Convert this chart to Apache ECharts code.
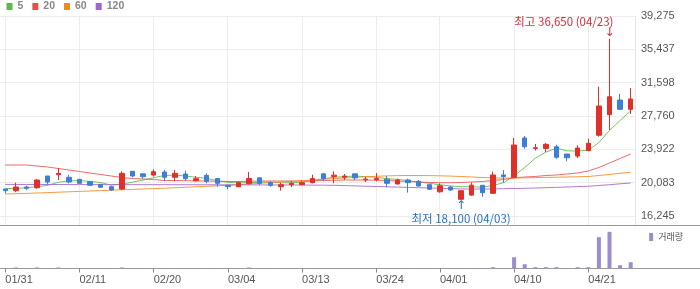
<!DOCTYPE html>
<html><head><meta charset="utf-8">
<script src="https://cdn.jsdelivr.net/npm/echarts@6/dist/echarts.min.js"></script>
<style>html,body{margin:0;padding:0;background:#fff}#c{width:700px;height:289px}</style>
</head><body><div id="c"></div>
<script>
const dates = ['01/31','02/03','02/04','02/05','02/06','02/07','02/10','02/11','02/12','02/13',
 '02/14','02/17','02/18','02/19','02/20','02/21','02/24','02/25','02/26','02/27',
 '02/28','03/04','03/05','03/06','03/07','03/10','03/11','03/12','03/13','03/14',
 '03/17','03/18','03/19','03/20','03/21','03/24','03/25','03/26','03/27','03/28',
 '03/31','04/01','04/02','04/03','04/04','04/07','04/08','04/09','04/10','04/11',
 '04/14','04/15','04/16','04/17','04/18','04/21','04/22','04/23','04/24','04/25'];
const opens = [19350,19160,19585,19500,20850,21000,20700,20470,20200,19895,
 19620,19350,21390,21100,20960,21310,20700,21080,20310,20930,
 20560,19780,19620,19960,20640,20080,19620,19850,19860,20080,
 21100,20800,20700,21100,20410,20410,20490,19930,20390,20240,
 19850,19030,19570,18170,18650,19780,18860,20970,20700,25230,
 24030,24030,24220,23380,23150,23770,25540,27910,29600,28530];
const closes = [19160,19585,19430,20390,20160,21155,20160,20010,19780,19550,
 19240,21160,20850,20780,21350,20700,21160,20540,20540,20240,
 20010,19620,20080,20560,20010,19780,19850,20010,20080,20560,
 20560,20950,20850,20640,20500,20560,20010,20390,20080,19700,
 19320,19720,19240,19160,19800,18930,20970,20780,24420,24220,
 24110,24500,23000,22950,24070,24620,28910,29980,28530,29720];
const lows = [18860,18990,19240,19390,19850,20390,20010,20000,19720,19500,
 19120,19240,20700,20540,20780,20240,20240,20310,20240,20010,
 19620,19320,19570,19880,19800,19620,19160,19570,19780,20010,
 20240,20010,20390,20390,20160,20240,19570,19880,18940,19620,
 19240,18940,19120,18100,18570,18470,18790,20080,20620,23990,
 23780,23610,22840,22540,22920,23700,25380,26150,28450,27990];
const highs = [19350,20080,19735,20505,20850,21770,21000,20470,20200,19895,
 19735,21390,21390,21160,21620,21540,21540,21460,20850,21160,
 20560,19780,20240,21310,20700,20240,20080,20240,20310,21000,
 21180,21390,21080,21100,20770,21180,20850,20540,20540,20390,
 19850,20010,19730,19240,20080,19800,21350,21540,25230,25460,
 24540,24640,24450,23380,24390,25150,31130,36650,30290,30980];
const ma5 = [19410,19420,19500,19620,19780,20130,20280,20330,20230,20100,
 19800,19930,20140,20380,20660,20900,20960,20850,20700,20580,
 20310,20120,20060,20080,20140,20150,20070,20060,20150,20310,
 20540,20700,20770,20850,20770,20700,20540,20470,20310,20160,
 20010,19850,19700,19620,19620,19560,19750,20080,20870,21830,
 22900,23600,24050,23750,23720,23830,24700,26110,27240,28360];
const ma20 = [22118,22118,22118,22003,21888,21715,21542,21369,21196,21024,
 20851,20678,20563,20506,20448,20333,20333,20310,20275,20275,
 20252,20218,20218,20241,20275,20275,20275,20275,20275,20298,
 20333,20356,20390,20390,20390,20367,20333,20275,20218,20160,
 20103,20079,20079,20103,20160,20218,20333,20448,20621,20736,
 20794,20909,20966,21081,21196,21427,21830,22348,22866,23384];
const ma60 = [18778,18813,18847,18893,18940,18986,19032,19078,19124,19170,
 19216,19262,19308,19354,19400,19446,19492,19550,19607,19665,
 19723,19780,19849,19930,20010,20091,20160,20241,20321,20390,
 20471,20552,20621,20690,20759,20816,20863,20897,20909,20909,
 20897,20874,20839,20794,20736,20678,20632,20609,20621,20644,
 20667,20690,20713,20736,20759,20794,20909,21024,21162,21289];
const ma120 = [19880,19880,19875,19875,19870,19870,19865,19865,19860,19860,
 19860,19855,19855,19850,19850,19850,19845,19845,19840,19840,
 19835,19830,19830,19825,19825,19820,19820,19815,19810,19800,
 19790,19780,19746,19711,19676,19642,19607,19573,19538,19504,
 19469,19435,19400,19366,19354,19354,19366,19389,19412,19435,
 19469,19504,19538,19584,19630,19676,19757,19849,19953,20045];
const volumes = [10,100,10,100,10,100,10,10,10,10,
 10,100,10,10,10,10,10,10,10,10,
 10,10,10,100,10,10,10,10,10,10,
 10,10,10,10,10,10,10,10,10,10,
 10,10,10,10,10,10,130,10,1130,430,
 130,130,130,10,130,130,3130,3670,330,630];
const yTicks = [16245, 20083, 23922, 27760, 31598, 35437, 39275];
const xLabelDates = ['01/31','02/11','02/20','03/04','03/13','03/24','04/01','04/10','04/21'];
const maNames = ['5','20','60','120'];
const maColors = ['#5cb848','#e85050','#f28a1e','#a064cc'];
const maData = [ma5, ma20, ma60, ma120];

const fmt = v => Math.round(v).toLocaleString('en-US');
let hiIdx = 0, loIdx = 0;
highs.forEach((v,i)=>{ if (v > highs[hiIdx]) hiIdx = i; });
lows.forEach((v,i)=>{ if (v < lows[loIdx]) loIdx = i; });
const showDate = (i, v) => xLabelDates.includes(v);
const KR = '"Noto Sans CJK KR", sans-serif';
const LAT = '"Liberation Sans", Arial, sans-serif';
const ARW = '"DejaVu Sans", sans-serif';
const hiColor = '#d8283c', loColor = '#2a73b8';
const mpBase = {symbol:'rect', symbolSize:1, itemStyle:{color:'rgba(0,0,0,0)'}};

const chart = echarts.init(document.getElementById('c'), null, {renderer:'canvas'});
const series = maNames.map((n,k)=>({
  name:n, type:'line', xAxisIndex:0, yAxisIndex:0, data:maData[k],
  showSymbol:false, symbol:'none', color:maColors[k],
  lineStyle:{width:1, color:maColors[k], opacity:0.85}, z:2
}));
series.push({
  name:'일봉', type:'candlestick', xAxisIndex:0, yAxisIndex:0, z:3,
  data: dates.map((d,i)=>[opens[i], closes[i], lows[i], highs[i]]),
  barWidth:5,
  itemStyle:{color:'#e0302a', color0:'#3b7fd6', borderColor:'#e0302a', borderColor0:'#3b7fd6', borderWidth:1},
  markPoint:{
    animation:false,
    data:[
      Object.assign({coord:[dates[hiIdx], highs[hiIdx]], label:{show:true, position:'inside', formatter:'↓', offset:[0,-6], color:hiColor, fontSize:12, fontFamily:ARW}}, mpBase),
      Object.assign({coord:[dates[hiIdx], highs[hiIdx]], label:{show:true, position:'inside', align:'right', formatter:'최고 ' + fmt(highs[hiIdx]) + ' (' + dates[hiIdx] + ')', offset:[4,-17.5], color:hiColor, fontSize:11.5, fontFamily:KR}}, mpBase),
      Object.assign({coord:[dates[loIdx], lows[loIdx]], label:{show:true, position:'inside', formatter:'↑', offset:[0,6], color:loColor, fontSize:12, fontFamily:ARW}}, mpBase),
      Object.assign({coord:[dates[loIdx], lows[loIdx]], label:{show:true, position:'inside', formatter:'최저 ' + fmt(lows[loIdx]) + ' (' + dates[loIdx] + ')', offset:[0,18.5], color:loColor, fontSize:11.5, fontFamily:KR}}, mpBase)
    ]
  }
});
series.push({
  name:'거래량', type:'bar', xAxisIndex:2, yAxisIndex:2, data:volumes, barWidth:4,
  itemStyle:{color:'#9c8ccc'}, color:'#9c8ccc'
});

chart.setOption({
  animation:false,
  backgroundColor:'#fff',
  textStyle:{fontFamily:LAT},
  legend:[
    {data:maNames, left:6.5, top:1, padding:0, icon:'rect', itemWidth:6, itemHeight:7, itemGap:9,
     selectedMode:false, textStyle:{color:'#888', fontSize:10.5, fontWeight:'bold', fontFamily:LAT}},
    {data:['거래량'], right:17, top:232.5, padding:0, icon:'rect', itemWidth:4, itemHeight:8,
     selectedMode:false, textStyle:{color:'#555', fontSize:9, fontFamily:KR}}
  ],
  grid:[
    {left:0, right:64, top:16, height:200},
    {left:5, right:69.6, top:16, height:209},
    {left:0, right:64, top:226, height:42.5}
  ],
  xAxis:[
    {gridIndex:0, type:'category', data:dates, boundaryGap:true, show:false},
    {gridIndex:1, type:'category', data:dates, boundaryGap:false,
     axisLine:{show:false}, axisTick:{show:false}, axisLabel:{show:false},
     splitLine:{show:true, interval:showDate, lineStyle:{color:'#ececec', width:1}}},
    {gridIndex:2, type:'category', data:dates, boundaryGap:true,
     axisLine:{show:false},
     axisTick:{show:true, alignWithLabel:true, interval:showDate, length:4, lineStyle:{color:'#888'}},
     axisLabel:{show:true, interval:showDate, align:'left', margin:6, color:'#555', fontSize:11, fontFamily:LAT},
     splitLine:{show:false}}
  ],
  yAxis:[
    {gridIndex:0, type:'value', position:'right', min:yTicks[0], max:yTicks[yTicks.length-1],
     interval:(yTicks[yTicks.length-1]-yTicks[0])/(yTicks.length-1),
     axisLine:{show:false}, axisTick:{show:false},
     axisLabel:{margin:5, color:'#555', fontSize:11, fontFamily:LAT, formatter:fmt},
     splitLine:{show:true, lineStyle:{color:'#ececec', width:1}}},
    {gridIndex:1, type:'value', show:false, min:0, max:1},
    {gridIndex:2, type:'value', show:false, min:0, max:4250}
  ],
  graphic:[
    {type:'line', silent:true, shape:{x1:635.5, y1:16, x2:635.5, y2:225}, style:{stroke:'#e4e4e4', lineWidth:1}},
    {type:'line', silent:true, shape:{x1:0, y1:225.5, x2:700, y2:225.5}, style:{stroke:'#999', lineWidth:1}},
    {type:'line', silent:true, shape:{x1:0, y1:268.5, x2:700, y2:268.5}, style:{stroke:'#999', lineWidth:1}}
  ],
  series:series
});
</script></body></html>
